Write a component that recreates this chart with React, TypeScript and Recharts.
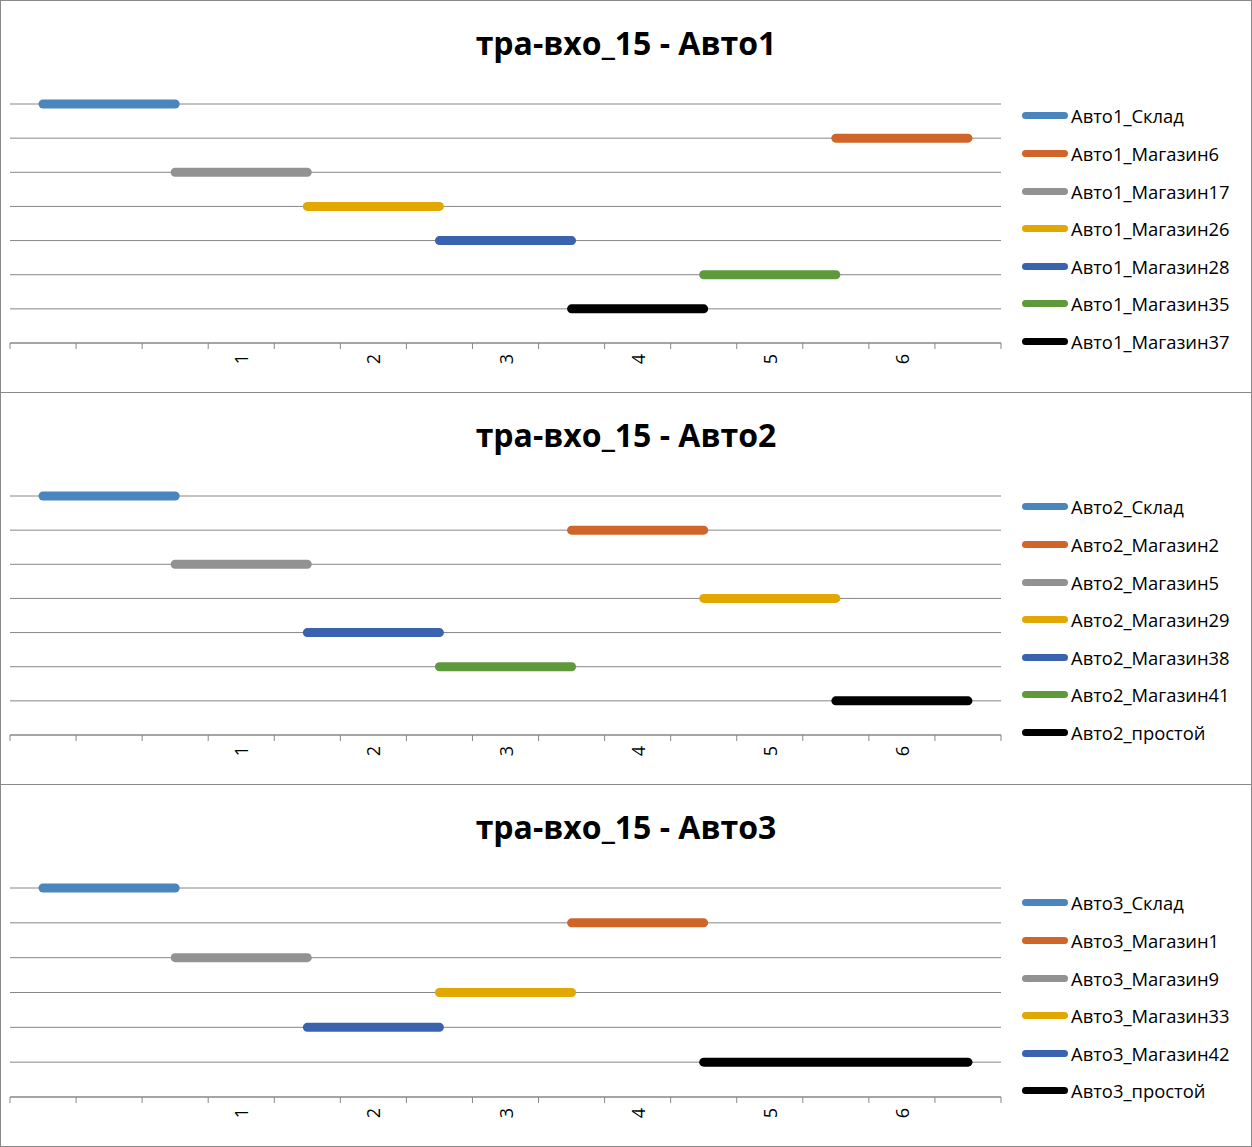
import { LineChart, Line, XAxis, YAxis, CartesianGrid } from "recharts";

// category axis: 15 slots, only some carry a label
const categories = ["", "", "", "1", "", "2", "", "3", "", "4", "", "5", "", "6", ""];

const COLORS = [
  "#4A86BD", // blue
  "#D0652A", // orange
  "#929292", // gray
  "#E2A700", // gold
  "#3A63AF", // dark blue
  "#5E9A3C", // green
  "#000000", // black
];

// Авто1
const auto1Names = [
  "Авто1_Склад",
  "Авто1_Магазин6",
  "Авто1_Магазин17",
  "Авто1_Магазин26",
  "Авто1_Магазин28",
  "Авто1_Магазин35",
  "Авто1_Магазин37",
];
const auto1Levels = [7, 6, 5, 4, 3, 2, 1];
const auto1Start = [0, 12, 2, 4, 6, 10, 8];
const auto1End = [2, 14, 4, 6, 8, 12, 10];

// Авто2
const auto2Names = [
  "Авто2_Склад",
  "Авто2_Магазин2",
  "Авто2_Магазин5",
  "Авто2_Магазин29",
  "Авто2_Магазин38",
  "Авто2_Магазин41",
  "Авто2_простой",
];
const auto2Levels = [7, 6, 5, 4, 3, 2, 1];
const auto2Start = [0, 8, 2, 10, 4, 6, 12];
const auto2End = [2, 10, 4, 12, 6, 8, 14];

// Авто3
const auto3Names = [
  "Авто3_Склад",
  "Авто3_Магазин1",
  "Авто3_Магазин9",
  "Авто3_Магазин33",
  "Авто3_Магазин42",
  "Авто3_простой",
];
const auto3Levels = [6, 5, 4, 3, 2, 1];
const auto3Start = [0, 8, 2, 6, 4, 10];
const auto3End = [2, 10, 4, 8, 6, 14];
const auto3Colors = ["#4A86BD", "#D0652A", "#929292", "#E2A700", "#3A63AF", "#000000"];

const FONT = "'Open Sans', 'Noto Sans', sans-serif";
const GRID = "#878787";

function buildRows(levels: number[], starts: number[], ends: number[]) {
  return categories.map((label, i) => {
    const row: any = { x: i + 0.5, label };
    levels.forEach((lv, j) => {
      row["s" + j] = i === starts[j] || i === ends[j] ? lv : null;
    });
    return row;
  });
}

const NoTick = () => <g />;

const RotatedTick = ({ x, y, payload }: any) => {
  const idx = Math.floor(payload.value);
  return (
    <text
      transform={`translate(${x},${y + 2}) rotate(-90)`}
      textAnchor="end"
      dominantBaseline="central"
      style={{ fontSize: 18, fontFamily: FONT }}
      fill="#000"
    >
      {categories[idx]}
    </text>
  );
};

interface PanelProps {
  top: number;
  height: number;
  title: string;
  names: string[];
  levels: number[];
  starts: number[];
  ends: number[];
  colors: string[];
  plotBottom: number;
  legendTop: number;
}

function Panel({ top, height, title, names, levels, starts, ends, colors, plotBottom, legendTop }: PanelProps) {
  const rows = buildRows(levels, starts, ends);
  const yMax = Math.max(...levels);
  const yTicks = Array.from({ length: yMax + 1 }, (_, i) => i);
  const boundaryTicks = categories.map((_, i) => i).concat([categories.length]);
  const labelTicks = categories.map((c, i) => (c ? i + 0.5 : -1)).filter((v) => v >= 0);

  return (
    <div
      style={{
        position: "absolute",
        left: 0,
        top,
        width: 1252,
        height,
        boxSizing: "border-box",
        border: "1px solid #898989",
        background: "#fff",
      }}
    >
      <div
        style={{
          position: "absolute",
          left: -1,
          top: 20,
          width: 1252,
          textAlign: "center",
          fontFamily: FONT,
          fontWeight: 700,
          fontSize: 32,
          lineHeight: "44px",
          color: "#000",
        }}
      >
        {title}
      </div>
      <div style={{ position: "absolute", left: -1, top: -1 }}>
        <LineChart
          width={1012}
          height={height}
          data={rows}
          margin={{ top: 104, right: 11, left: 10, bottom: 0 }}
        >
          <CartesianGrid horizontal vertical={false} stroke={GRID} strokeWidth={1} />
          <YAxis
            type="number"
            domain={[0, yMax]}
            ticks={yTicks}
            interval={0}
            width={0}
            tick={<NoTick />}
            axisLine={false}
            tickLine={false}
          />
          <XAxis
            xAxisId="a0"
            type="number"
            dataKey="x"
            domain={[0, categories.length]}
            ticks={boundaryTicks}
            interval={0}
            height={1}
            tick={<NoTick />}
            tickSize={6}
            axisLine={{ stroke: GRID }}
            tickLine={{ stroke: GRID }}
          />
          <XAxis
            xAxisId="a1"
            type="number"
            dataKey="x"
            domain={[0, categories.length]}
            ticks={labelTicks}
            interval={0}
            height={height - plotBottom - 1}
            tick={<RotatedTick />}
            axisLine={false}
            tickLine={false}
          />
          {names.map((n, j) => (
            <Line
              key={n}
              xAxisId="a1"
              type="linear"
              dataKey={"s" + j}
              name={n}
              stroke={colors[j]}
              strokeWidth={9}
              strokeLinecap="round"
              dot={false}
              activeDot={false}
              connectNulls
              isAnimationActive={false}
            />
          ))}
        </LineChart>
      </div>
      <div style={{ position: "absolute", left: 1021, top: legendTop - 1 - 18.8 }}>
        {names.map((n, j) => (
          <div key={n} style={{ display: "flex", alignItems: "center", height: 37.6 }}>
            <span
              style={{
                display: "inline-block",
                width: 46,
                height: 7,
                borderRadius: 4,
                background: colors[j],
              }}
            />
            <span
              style={{
                marginLeft: 3,
                fontFamily: FONT,
                fontSize: 18.4,
                color: "#000",
                whiteSpace: "nowrap",
              }}
            >
              {n}
            </span>
          </div>
        ))}
      </div>
    </div>
  );
}

export default function App() {
  return (
    <div style={{ position: "absolute", left: 0, top: 0, width: 1252, height: 1147, background: "#fff" }}>
      <Panel
        top={0}
        height={393}
        title="тра-вхо_15 - Авто1"
        names={auto1Names}
        levels={auto1Levels}
        starts={auto1Start}
        ends={auto1End}
        colors={COLORS}
        plotBottom={343}
        legendTop={116}
      />
      <Panel
        top={392}
        height={393}
        title="тра-вхо_15 - Авто2"
        names={auto2Names}
        levels={auto2Levels}
        starts={auto2Start}
        ends={auto2End}
        colors={COLORS}
        plotBottom={343}
        legendTop={115}
      />
      <Panel
        top={784}
        height={363}
        title="тра-вхо_15 - Авто3"
        names={auto3Names}
        levels={auto3Levels}
        starts={auto3Start}
        ends={auto3End}
        colors={auto3Colors}
        plotBottom={313}
        legendTop={119}
      />
    </div>
  );
}
